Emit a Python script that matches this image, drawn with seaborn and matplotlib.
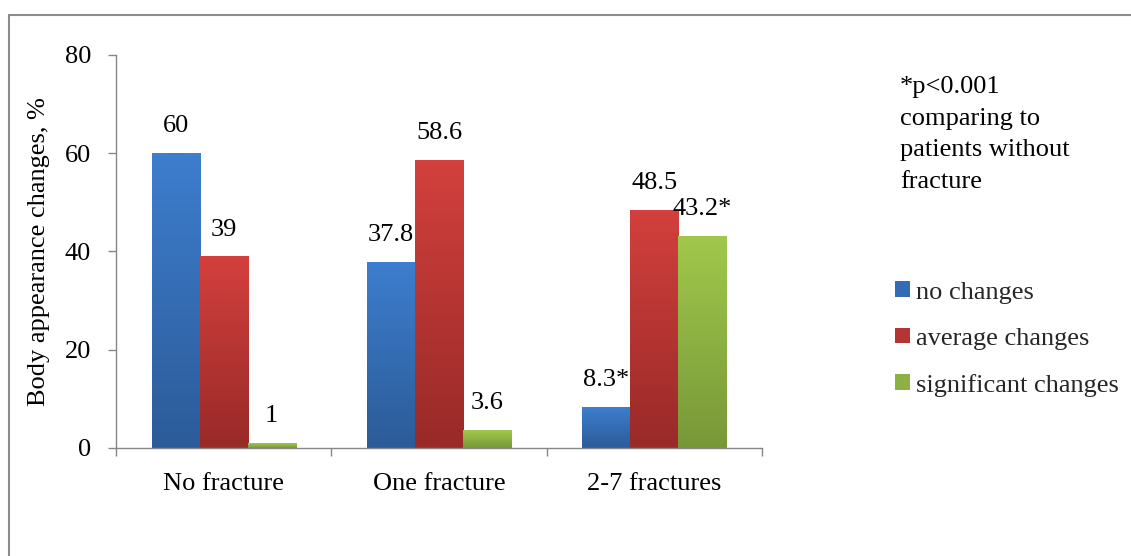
import numpy as np
import pandas as pd
import matplotlib
matplotlib.use("Agg")
import matplotlib.pyplot as plt
import seaborn as sns
from matplotlib.patches import Patch
from matplotlib.lines import Line2D
from matplotlib.colors import LinearSegmentedColormap

# Share of patients by body appearance change, per fracture group
groups = ["No fracture", "One fracture", "2-7 fractures"]
series = ["no changes", "average changes", "significant changes"]
no_changes = [60, 37.8, 8.3]
average_changes = [39, 58.6, 48.5]
significant_changes = [1, 3.6, 43.2]
value_labels = [["60", "37.8", "8.3*"],
                ["39", "58.6", "48.5"],
                ["1", "3.6", "43.2*"]]
y_ticks = [0, 20, 40, 60, 80]
note = "*p<0.001\ncomparing to\npatients without\nfracture"

# top / bottom colours of each series' vertical gradient
top_colors = ["#3D7ECE", "#D3403D", "#A1C84C"]
bottom_colors = ["#2C5B98", "#982A28", "#789838"]

sns.set_theme(style="white")
plt.rcParams["font.family"] = ["Liberation Serif", "DejaVu Serif"]
plt.rcParams["font.size"] = 19

df = pd.DataFrame({
    "group": groups * 3,
    "series": sum([[s] * len(groups) for s in series], []),
    "value": no_changes + average_changes + significant_changes,
})

fig = plt.figure(figsize=(11.31, 5.56), dpi=100)
ax = fig.add_axes([116 / 1131, 1 - 448 / 556, (762 - 116) / 1131, (448 - 55) / 556])

mid_colors = [sns.blend_palette([t, b], 3)[1] for t, b in zip(top_colors, bottom_colors)]
sns.barplot(data=df, x="group", y="value", hue="series", order=groups,
            hue_order=series, palette=mid_colors, width=0.67, gap=0,
            saturation=1, linewidth=0, legend=False, ax=ax)

ax.set_ylim(0, 80)
ax.set_xlim(-0.5, 2.5)

# paint each bar with a vertical gradient, clipped to the bar shape
for si, cont in enumerate(ax.containers):
    cmap = LinearSegmentedColormap.from_list(f"g{si}", [bottom_colors[si], top_colors[si]])
    for gi, bar in enumerate(cont):
        x0, w, h = bar.get_x(), bar.get_width(), bar.get_height()
        grad = np.linspace(0, 1, 256).reshape(-1, 1)
        im = ax.imshow(grad, extent=[x0, x0 + w, 0, h], origin="lower",
                       aspect="auto", cmap=cmap, zorder=bar.get_zorder() + 0.1)
        im.set_clip_path(bar)
        ax.annotate(value_labels[si][gi], (x0 + w / 2, h), xytext=(0, 15),
                    textcoords="offset points", ha="center", va="baseline",
                    fontsize=19, color="black")

ax.set_ylim(0, 80)
ax.set_xlim(-0.5, 2.5)

axis_gray = "#868686"
for side in ["top", "right"]:
    ax.spines[side].set_visible(False)
for side in ["left", "bottom"]:
    ax.spines[side].set_color(axis_gray)
    ax.spines[side].set_linewidth(1.0)

ax.set_yticks(y_ticks)
ax.tick_params(axis="y", which="major", direction="out", length=6, width=1.0,
               color=axis_gray, left=True, pad=12, labelsize=19, labelcolor="black")
ax.set_xticks(range(len(groups)))
ax.set_xticklabels(groups)
ax.set_xticks([-0.5, 0.5, 1.5, 2.5], minor=True)
ax.tick_params(axis="x", which="major", length=0, pad=18, labelsize=19, labelcolor="black")
ax.tick_params(axis="x", which="minor", direction="out", length=6, width=1.0,
               color=axis_gray, bottom=True)
ax.set_xlabel("")
ax.set_ylabel("Body appearance changes, %", fontsize=19, color="black")
ax.yaxis.set_label_coords(-(116 - 50) / 646, 0.5)
ax.grid(False)

handles = [Patch(facecolor=c, edgecolor="none") for c in mid_colors]
fig.legend(handles, series, loc="center left",
           bbox_to_anchor=(895 / 1131, 1 - 339 / 556), frameon=False,
           handlelength=0.55, handleheight=0.55, handletextpad=0.25,
           labelspacing=0.9, borderpad=0, borderaxespad=0, fontsize=19)

fig.text(900 / 1131, 1 - 76 / 556, note, ha="left", va="top", fontsize=19,
         linespacing=1.56, color="black")

# outer chart border
frame_kw = dict(color="#8C8C8C", linewidth=1.5, transform=fig.transFigure)
fig.add_artist(Line2D([9 / 1131, 9 / 1131], [0, 1 - 15 / 556], **frame_kw))
fig.add_artist(Line2D([9 / 1131, 1], [1 - 15 / 556, 1 - 15 / 556], **frame_kw))

fig.savefig("out.png", dpi=100, facecolor="white")
